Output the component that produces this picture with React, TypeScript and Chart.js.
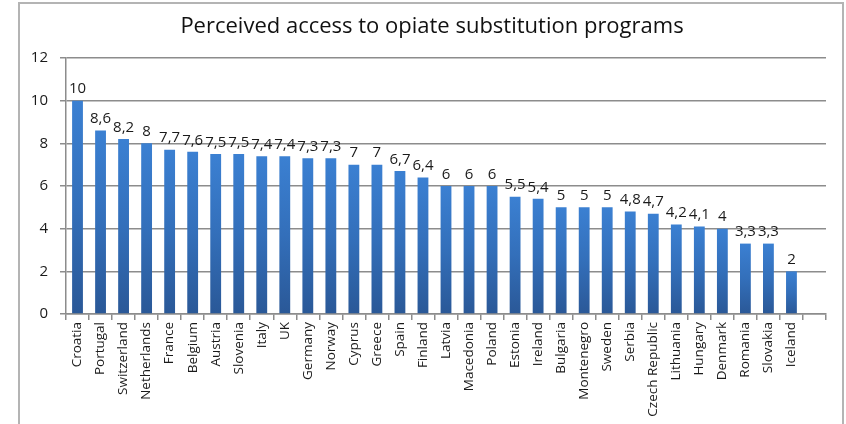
import React, { useEffect, useRef } from "react";
import { Chart, registerables } from "chart.js";

Chart.register(...registerables);

const TITLE = "Perceived access to opiate substitution programs";
const countries = [
  "Croatia", "Portugal", "Switzerland", "Netherlands", "France", "Belgium", "Austria", "Slovenia",
  "Italy", "UK", "Germany", "Norway", "Cyprus", "Greece", "Spain", "Finland", "Latvia", "Macedonia",
  "Poland", "Estonia", "Ireland", "Bulgaria", "Montenegro", "Sweden", "Serbia", "Czech Republic",
  "Lithuania", "Hungary", "Denmark", "Romania", "Slovakia", "Iceland", "",
];
const values: (number | null)[] = [
  10, 8.6, 8.2, 8, 7.7, 7.6, 7.5, 7.5, 7.4, 7.4, 7.3, 7.3, 7, 7, 6.7, 6.4, 6, 6, 6, 5.5, 5.4, 5, 5, 5,
  4.8, 4.7, 4.2, 4.1, 4, 3.3, 3.3, 2, null,
];
const yTicks = [0, 2, 4, 6, 8, 10, 12];

const FONT = "'Open Sans', sans-serif";

const labelPlugin = {
  id: "barLabels",
  afterDatasetsDraw(chart: any) {
    const { ctx } = chart;
    const meta = chart.getDatasetMeta(0);
    ctx.save();
    ctx.font = `15px ${FONT}`;
    ctx.fillStyle = "#1a1a1a";
    ctx.textAlign = "center";
    ctx.textBaseline = "bottom";
    meta.data.forEach((el: any, i: number) => {
      const v = values[i];
      if (v == null) return;
      ctx.fillText(String(v).replace(".", ","), el.x, el.y - 4);
    });
    ctx.restore();
  },
};

const titlePlugin = {
  id: "customTitle",
  afterDraw(chart: any) {
    const { ctx } = chart;
    ctx.save();
    ctx.font = `22px ${FONT}`;
    ctx.fillStyle = "#111";
    ctx.textAlign = "center";
    ctx.textBaseline = "middle";
    ctx.fillText(TITLE, 432, 27);
    ctx.restore();
  },
};

export default function App() {
  const ref = useRef<HTMLCanvasElement>(null);
  useEffect(() => {
    const canvas = ref.current!;
    const chart = new Chart(canvas, {
      type: "bar",
      data: {
        labels: countries,
        datasets: [
          {
            data: values,
            backgroundColor: (c: any) => {
              const chart = c.chart;
              const y = chart.scales?.y;
              if (!y || c.type !== "data" || c.raw == null) return "#3473c0";
              const top = y.getPixelForValue(c.raw);
              const bottom = y.getPixelForValue(0);
              if (!isFinite(top) || !isFinite(bottom) || top === bottom) return "#3473c0";
              const g = chart.ctx.createLinearGradient(0, top, 0, bottom);
              g.addColorStop(0, "#3b80d2");
              g.addColorStop(0.5, "#336fba");
              g.addColorStop(1, "#2a5897");
              return g;
            },
            barPercentage: 0.47,
            categoryPercentage: 1,
          },
        ],
      },
      options: {
        animation: false,
        responsive: false,
        maintainAspectRatio: false,
        layout: { padding: { top: 58, right: 20, left: 0, bottom: 0 } },
        plugins: { legend: { display: false }, title: { display: false }, tooltip: { enabled: false } },
        scales: {
          x: {
            grid: { drawOnChartArea: false, color: "#8c8c8c", tickLength: 6, lineWidth: 1.5, offset: true },
            border: { color: "#8c8c8c", width: 1.5 },
            ticks: {
              font: { family: FONT, size: 13.5 },
              color: "#1a1a1a",
              minRotation: 90,
              maxRotation: 90,
              autoSkip: false,
              padding: 2,
            },
            afterFit: (s: any) => {
              s.height = 110;
            },
          },
          y: {
            min: 0,
            max: 12,
            afterBuildTicks: (s: any) => {
              s.ticks = yTicks.map((v) => ({ value: v }));
            },
            grid: { color: "#8c8c8c", lineWidth: 1.5, tickLength: 6 },
            border: { color: "#8c8c8c", width: 1.5 },
            ticks: { font: { family: FONT, size: 15 }, color: "#1a1a1a", padding: 12 },
            afterFit: (s: any) => {
              s.width = 66;
            },
          },
        },
      },
      plugins: [labelPlugin, titlePlugin],
    });
    return () => chart.destroy();
  }, []);
  return (
    <div style={{ position: "fixed", left: 0, top: 0, width: 846, height: 424, background: "#fff" }}>
      <canvas ref={ref} width={846} height={424} style={{ position: "absolute", left: 0, top: 0 }} />
      <div
        style={{
          position: "absolute",
          left: 18,
          top: 2,
          width: 826,
          height: 440,
          border: "2px solid #b4b4b4",
          boxSizing: "border-box",
          pointerEvents: "none",
        }}
      />
    </div>
  );
}
